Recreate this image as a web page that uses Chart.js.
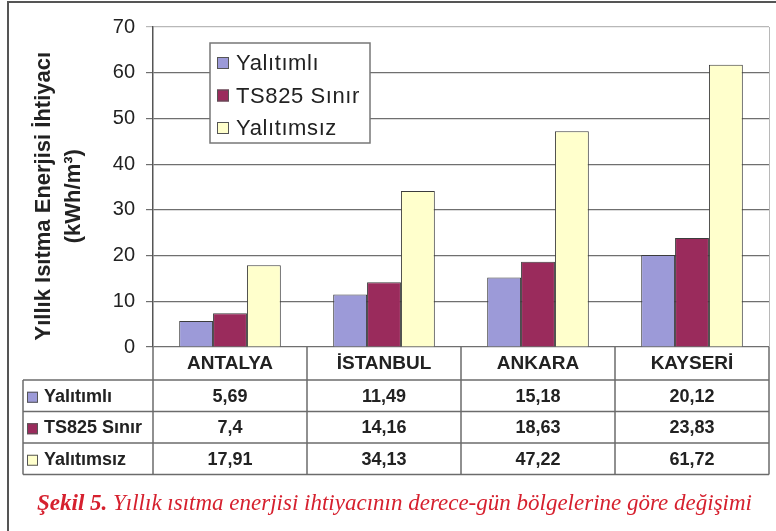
<!DOCTYPE html>
<html lang="tr">
<head>
<meta charset="utf-8">
<title>Şekil 5</title>
<script src="https://cdn.jsdelivr.net/npm/chart.js@4.4.1/dist/chart.umd.min.js"></script>
<style>
  html, body { margin:0; padding:0; background:#fff; }
  #wrap    { position:relative; width:776px; height:531px; overflow:hidden; }
  #frame   { position:absolute; left:7px; top:1px; width:800px; height:560px;
             border-top:2px solid #555; border-left:2px solid #555; }
  canvas   { position:absolute; left:0; top:0; }
  #caption { position:absolute; left:37px; top:490px; white-space:nowrap;
             font:italic 23px "Liberation Serif", "Times New Roman", serif; color:#d6202e; }
</style>
</head>
<body>
<div id="wrap">
  <div id="frame"></div>
  <canvas id="chart" width="776" height="531"></canvas>
  <div id="caption"><b>Şekil 5.</b> Yıllık ısıtma enerjisi ihtiyacının derece-gün bölgelerine göre değişimi</div>
</div>
<script>
'use strict';
// ── Şekil 5 ── yıllık ısıtma enerjisi, derece-gün bölgeleri ─────

const cities      = ['ANTALYA', 'İSTANBUL', 'ANKARA', 'KAYSERİ'];
const seriesNames = ['Yalıtımlı', 'TS825 Sınır', 'Yalıtımsız'];
const yalitimli   = [5.69, 11.49, 15.18, 20.12];
const ts825       = [7.4, 14.16, 18.63, 23.83];
const yalitimsiz  = [17.91, 34.13, 47.22, 61.72];
const yTicks      = [0, 10, 20, 30, 40, 50, 60, 70];
// trailing spaces nudge the rotated title a little below the plot centre, as in the original
const yTitle      = ['Yıllık Isıtma Enerjisi İhtiyacı   ', '(kWh/m³)   '];

const colors = ['#9c9ad8', '#9a2b5c', '#ffffcc'];
const FONT   = '"Liberation Sans", Arial, sans-serif';
const fmtVal = v => String(v).replace('.', ',');

function line(ctx, x1, y1, x2, y2) {
  ctx.beginPath(); ctx.moveTo(x1, y1); ctx.lineTo(x2, y2); ctx.stroke();
}

// ── legend box + data table under the axis ──────────────────
const extras = {
  id: 'extras',
  afterDraw(chart) {
    const { ctx, chartArea: a, scales: { x } } = chart;
    const sets = chart.data.datasets;
    const n    = chart.data.labels.length;
    const colW = (a.right - a.left) / n;
    ctx.save();

    // right edge of the plot
    ctx.strokeStyle = '#b8b8b8'; ctx.lineWidth = 1;
    line(ctx, a.right + .5, a.top, a.right + .5, a.bottom);

    // legend
    const lx = a.left + 57, ly = a.top + 16, lw = 160, lh = 100;
    ctx.fillStyle = '#fff';
    ctx.fillRect(lx, ly, lw, lh);
    ctx.strokeStyle = '#777'; ctx.lineWidth = 1.5;
    ctx.strokeRect(lx, ly, lw, lh);
    ctx.font = `22px ${FONT}`;
    ctx.letterSpacing = '0.6px';
    ctx.textBaseline = 'middle';
    sets.forEach((d, i) => {
      const cy = ly + 20 + i * 32.5;
      ctx.fillStyle = d.backgroundColor;
      ctx.fillRect(lx + 7, cy - 6, 12, 12);
      ctx.strokeStyle = '#555'; ctx.lineWidth = 1;
      ctx.strokeRect(lx + 7.5, cy - 5.5, 11, 11);
      ctx.fillStyle = '#222';
      ctx.fillText(d.label, lx + 26, cy + 1);
    });
    ctx.letterSpacing = '0px';

    // table
    const head = a.bottom + 33, rowH = 31.5, tblLeft = 23;
    const rows = sets.map((_, i) => head + rowH * (i + 1));
    const last = rows[rows.length - 1];
    ctx.strokeStyle = '#6b6b6b'; ctx.lineWidth = 1.5;
    [head, ...rows].forEach(y => line(ctx, tblLeft, y, a.right, y));
    line(ctx, tblLeft, head, tblLeft, last);
    for (let i = 0; i <= n; i++) {
      const xx = a.left + colW * i;
      line(ctx, xx, a.bottom, xx, last);
    }

    ctx.font = `bold 18px ${FONT}`;
    sets.forEach((d, r) => {
      const cy = head + rowH * r + rowH / 2 + 1;
      ctx.fillStyle = d.backgroundColor;
      ctx.fillRect(tblLeft + 4, cy - 5, 11, 11);
      ctx.strokeStyle = '#555'; ctx.lineWidth = 1;
      ctx.strokeRect(tblLeft + 4.5, cy - 4.5, 10, 10);
      ctx.fillStyle = '#222';
      ctx.textAlign = 'left';
      ctx.fillText(d.label, tblLeft + 21, cy);
      ctx.textAlign = 'center';
      d.data.forEach((v, c) => ctx.fillText(fmtVal(v), x.getPixelForValue(c), cy));
    });
    ctx.restore();
  },
};

new Chart(document.getElementById('chart'), {
  type: 'bar',
  data: {
    labels: cities,
    datasets: [yalitimli, ts825, yalitimsiz].map((vals, i) => ({
      label: seriesNames[i],
      data: vals,
      backgroundColor: colors[i],
      borderColor: '#3c3c3c',
      borderWidth: 1,
      categoryPercentage: 0.66,
      barPercentage: 1,
    })),
  },
  options: {
    responsive: false,
    animation: false,
    devicePixelRatio: 1,
    layout: { padding: { top: 27, right: 7, bottom: 151, left: 0 } },
    plugins: { legend: { display: false }, tooltip: { enabled: false } },
    scales: {
      x: {
        grid: { display: false, drawTicks: false },
        border: { display: false },
        ticks: { padding: 5, color: '#222', font: { family: FONT, size: 19, weight: 'bold' } },
        afterFit: s => { s.height = 33; },
      },
      y: {
        min: yTicks[0], max: yTicks[yTicks.length - 1],
        afterBuildTicks: s => { s.ticks = yTicks.map(v => ({ value: v })); },
        grid: {
          color: c => c.tick && c.tick.value === 70 ? '#b8b8b8' : '#6f6f6f',
          lineWidth: 1.2, tickLength: 7,
        },
        border: { color: '#555', width: 1.5 },
        ticks: { padding: 11, color: '#222', font: { family: FONT, size: 20 } },
        title: {
          display: true, text: yTitle, color: '#222',
          font: { family: FONT, size: 22, weight: 'bold', lineHeight: '30px' },
          padding: { top: 29, bottom: 0 },
        },
        afterFit: s => { s.width = 153; },
      },
    },
  },
  plugins: [extras],
});
</script>
</body>
</html>
